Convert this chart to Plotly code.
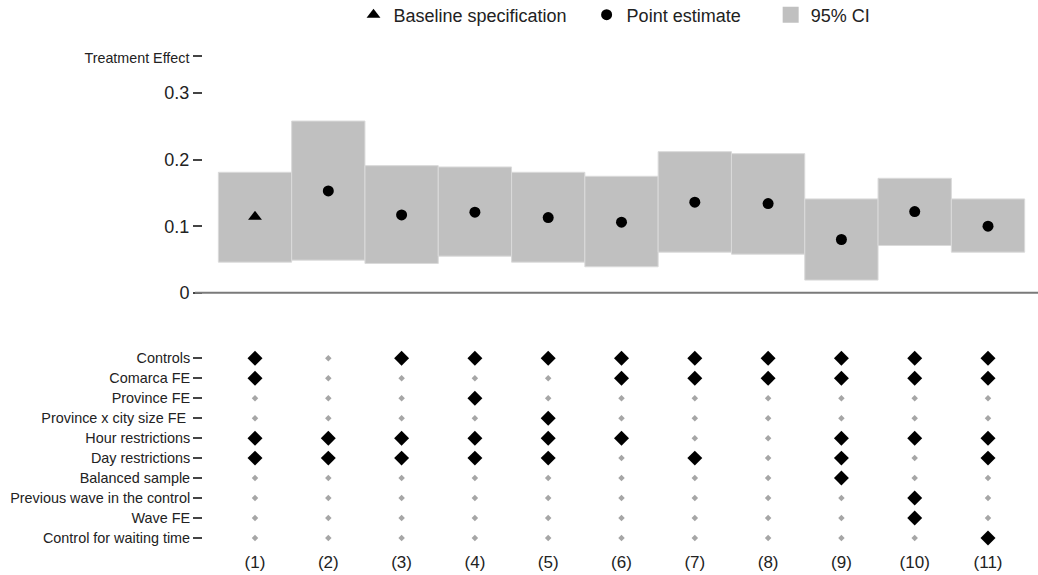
import plotly.graph_objects as go

# ---------------- data ----------------
spec_labels = ["(1)", "(2)", "(3)", "(4)", "(5)", "(6)", "(7)", "(8)", "(9)", "(10)", "(11)"]
point_est = [0.114, 0.153, 0.117, 0.121, 0.113, 0.106, 0.136, 0.134, 0.080, 0.122, 0.100]
ci_low = [0.046, 0.049, 0.044, 0.055, 0.046, 0.039, 0.061, 0.058, 0.019, 0.071, 0.061]
ci_high = [0.181, 0.258, 0.191, 0.189, 0.181, 0.175, 0.212, 0.209, 0.141, 0.172, 0.141]
baseline_index = 0

row_labels = ["Controls", "Comarca FE", "Province FE", "Province x city size FE ",
              "Hour restrictions", "Day restrictions", "Balanced sample",
              "Previous wave in the control", "Wave FE", "Control for waiting time"]
# rows x specifications (1 = included)
included = [
    [1, 0, 1, 1, 1, 1, 1, 1, 1, 1, 1],
    [1, 0, 0, 0, 0, 1, 1, 1, 1, 1, 1],
    [0, 0, 0, 1, 0, 0, 0, 0, 0, 0, 0],
    [0, 0, 0, 0, 1, 0, 0, 0, 0, 0, 0],
    [1, 1, 1, 1, 1, 1, 0, 0, 1, 1, 1],
    [1, 1, 1, 1, 1, 0, 1, 0, 1, 0, 1],
    [0, 0, 0, 0, 0, 0, 0, 0, 1, 0, 0],
    [0, 0, 0, 0, 0, 0, 0, 0, 0, 1, 0],
    [0, 0, 0, 0, 0, 0, 0, 0, 0, 1, 0],
    [0, 0, 0, 0, 0, 0, 0, 0, 0, 0, 1],
]
y_ticks = [0, 0.1, 0.2, 0.3, 0.355]
y_ticktext = ["0", "0.1", "0.2", "0.3", '<span style="font-size:14.3px">Treatment Effect</span>']
legend_names = ["Baseline specification", "Point estimate", "95% CI"]

# ---------------- figure ----------------
NB = "\u00a0"
xpos = list(range(1, len(spec_labels) + 1))
fig = go.Figure()

fig.add_trace(go.Bar(
    x=xpos, y=[h - l for h, l in zip(ci_high, ci_low)], base=ci_low, width=1,
    marker=dict(color="#c0c0c0", line=dict(color="#dadada", width=1)),
    showlegend=False, hoverinfo="skip", xaxis="x", yaxis="y"))

fig.add_trace(go.Scatter(
    x=[xpos[baseline_index]], y=[point_est[baseline_index]], mode="markers",
    marker=dict(symbol="triangle-up", size=12, color="black"),
    name=legend_names[0] + NB * 3, xaxis="x", yaxis="y"))

others = [i for i in range(len(xpos)) if i != baseline_index]
fig.add_trace(go.Scatter(
    x=[xpos[i] for i in others], y=[point_est[i] for i in others], mode="markers",
    marker=dict(symbol="circle", size=11, color="black"),
    name=legend_names[1] + NB * 5, xaxis="x", yaxis="y"))

# legend-only square for CI
fig.add_trace(go.Scatter(
    x=[None], y=[None], mode="markers",
    marker=dict(symbol="square", size=19, color="#c0c0c0"),
    name=legend_names[2], xaxis="x", yaxis="y"))

on_x, on_y, off_x, off_y = [], [], [], []
for r, row in enumerate(included):
    for c, v in enumerate(row):
        if v:
            on_x.append(xpos[c]); on_y.append(r)
        else:
            off_x.append(xpos[c]); off_y.append(r)

fig.add_trace(go.Scatter(x=off_x, y=off_y, mode="markers",
                         marker=dict(symbol="diamond", size=5, color="#a6a6a6"),
                         showlegend=False, xaxis="x2", yaxis="y2"))
fig.add_trace(go.Scatter(x=on_x, y=on_y, mode="markers",
                         marker=dict(symbol="diamond", size=11.5, color="black"),
                         showlegend=False, xaxis="x2", yaxis="y2"))

xr = [0.2906, 11.682]
tickfont_color = "#222"
fig.update_layout(
    width=1038, height=575,
    margin=dict(l=203, r=0, t=30, b=25),
    paper_bgcolor="white", plot_bgcolor="white",
    font=dict(family="Liberation Sans, Arial, sans-serif", color=tickfont_color),
    barmode="overlay",
    showlegend=True,
    legend=dict(orientation="h", x=0.5 - 6 / 835, xanchor="center", xref="paper",
                y=1 - 15 / 575, yref="container", yanchor="middle",
                font=dict(size=18, color=tickfont_color), traceorder="normal"),
    xaxis=dict(domain=[0, 1], range=xr, anchor="y", showticklabels=False,
               showgrid=False, zeroline=False, showline=False, ticks=""),
    yaxis=dict(domain=[(550 - 300) / 520, (550 - 40) / 520],
               range=[(291 - 300) / 670, (291 - 40) / 670], anchor="x",
               tickvals=y_ticks, ticktext=y_ticktext, ticks="outside", ticklen=9,
               tickwidth=1.5, tickcolor="#444", tickfont=dict(size=18),
               showgrid=False, zeroline=False, showline=False),
    xaxis2=dict(domain=[0, 1], range=xr, anchor="y2", tickvals=xpos,
                ticktext=spec_labels, ticks="", tickfont=dict(size=17),
                showgrid=False, zeroline=False, showline=False),
    yaxis2=dict(domain=[0, (550 - 345) / 520],
                range=[(550 - 357) / 20.1, (345 - 357) / 20.1], anchor="x2",
                tickvals=list(range(len(row_labels))), ticktext=row_labels,
                ticks="outside", ticklen=9, tickwidth=1.5, tickcolor="#444",
                tickfont=dict(size=14.4),
                showgrid=False, zeroline=False, showline=False),
    shapes=[dict(type="line", xref="paper", yref="y", x0=-8 / 835, x1=1,
                 y0=0, y1=0, line=dict(color="#7a7a7a", width=2))],
)

fig.write_html("out.html", post_script="document.body.style.margin='0';",
               config={"displayModeBar": False})
